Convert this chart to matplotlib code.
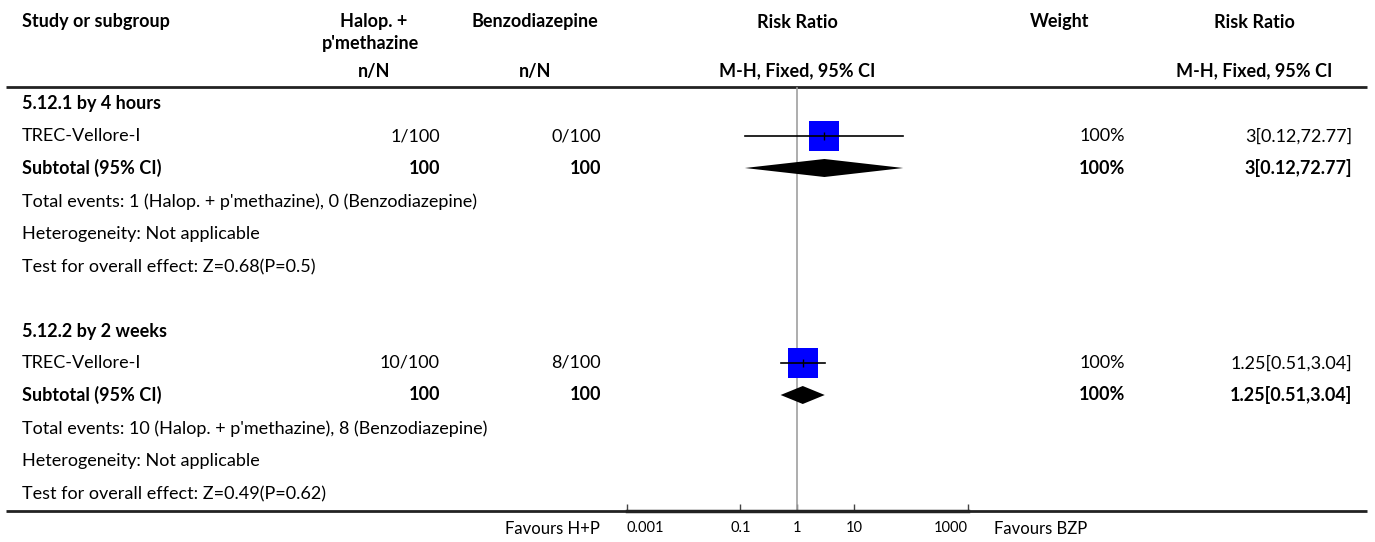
import matplotlib
matplotlib.use("Agg")
import matplotlib.pyplot as plt

# ---- data ----
subgroups = ["5.12.1 by 4 hours", "5.12.2 by 2 weeks"]
studies = ["TREC-Vellore-I", "TREC-Vellore-I"]
events_hp = [1, 10]
total_hp = [100, 100]
events_bzp = [0, 8]
total_bzp = [100, 100]
study_rr = [3, 1.25]
study_lo = [0.12, 0.51]
study_hi = [72.77, 3.04]
study_weight = [100, 100]
sub_rr = [3, 1.25]
sub_lo = [0.12, 0.51]
sub_hi = [72.77, 3.04]
z_values = ["0.68", "0.49"]
p_values = ["0.5", "0.62"]
axis_ticks = [0.001, 0.1, 1, 10, 1000]
axis_ticklabels = ["0.001", "0.1", "1", "10", "1000"]

W, H = 1375, 542
FONT = "Lato"
FS = 13.0
plt.rcParams["font.family"] = [FONT, "DejaVu Sans"]

fig = plt.figure(figsize=(W / 100, H / 100), dpi=100)
bg = fig.add_axes([0, 0, 1, 1])
bg.set_xlim(0, W)
bg.set_ylim(H, 0)
bg.axis("off")


def txt(x, y, s, ha="left", bold=False, size=FS):
    bg.text(x, y, s, ha=ha, va="center", fontsize=size,
            fontweight="bold" if bold else "normal", color="black")


# column positions
X_STUDY = 22
X_HP = 440
X_BZP = 601
X_PLOT = 797
X_WEIGHT = 1125
X_RR = 1352

# header
txt(X_STUDY, 22, "Study or subgroup", bold=True)
txt(374, 22, "Halop. +", ha="center", bold=True)
txt(371, 43, "p'methazine", ha="center", bold=True)
txt(535, 22, "Benzodiazepine", ha="center", bold=True)
txt(X_PLOT, 22, "Risk Ratio", ha="center", bold=True)
txt(1060, 22, "Weight", ha="center", bold=True)
txt(1254, 22, "Risk Ratio", ha="center", bold=True)
txt(374, 71, "n/N", ha="center", bold=True)
txt(535, 71, "n/N", ha="center", bold=True)
txt(X_PLOT, 71, "M-H, Fixed, 95% CI", ha="center", bold=True)
txt(1254, 71, "M-H, Fixed, 95% CI", ha="center", bold=True)
bg.plot([6, 1367], [87, 87], color="#222222", lw=2.0, solid_capstyle="butt")
bg.plot([6, 1367], [511, 511], color="#222222", lw=2.0, solid_capstyle="butt")

# forest plot axes: log x scale, y in pixel rows
AX_L, AX_R, AX_B = 626.5, 968.0, 511
fa = fig.add_axes([AX_L / W, (H - AX_B) / H, (AX_R - AX_L) / W, AX_B / H])
fa.set_xscale("log")
fa.set_xlim(axis_ticks[0], axis_ticks[-1])
fa.set_ylim(AX_B, 0)
fa.patch.set_alpha(0)
for side in ("top", "left", "right"):
    fa.spines[side].set_visible(False)
fa.spines["bottom"].set_linewidth(2.5)
fa.spines["bottom"].set_color("#222222")
fa.set_yticks([])
fa.set_xticks(axis_ticks)
fa.set_xticklabels(axis_ticklabels)
fa.minorticks_off()
fa.tick_params(axis="x", direction="in", length=5, width=1, color="#444444",
               labelsize=10.5, pad=7)
tl = fa.get_xticklabels()
tl[0].set_horizontalalignment("left")
tl[-1].set_horizontalalignment("right")
fa.axvline(1, ymin=0, ymax=(AX_B - 88) / AX_B, color="#a0a0a0", lw=1.2)

txt(600, 529, "Favours H+P", ha="right", size=12)
txt(994, 529, "Favours BZP", ha="left", size=12)

# rows
BLOCK = [104, 331]
for i in range(len(subgroups)):
    y0 = BLOCK[i]
    y_study = y0 + 32
    y_sub = y0 + 64
    txt(X_STUDY, y0, subgroups[i], bold=True)
    txt(X_STUDY, y_study, studies[i])
    txt(X_HP, y_study, f"{events_hp[i]}/{total_hp[i]}", ha="right")
    txt(X_BZP, y_study, f"{events_bzp[i]}/{total_bzp[i]}", ha="right")
    txt(X_WEIGHT, y_study, f"{study_weight[i]:g}%", ha="right")
    txt(X_RR, y_study,
        f"{study_rr[i]:g}[{study_lo[i]:.2f},{study_hi[i]:.2f}]", ha="right")

    txt(X_STUDY, y_sub, "Subtotal (95% CI)", bold=True)
    txt(X_HP, y_sub, f"{total_hp[i]}", ha="right", bold=True)
    txt(X_BZP, y_sub, f"{total_bzp[i]}", ha="right", bold=True)
    txt(X_WEIGHT, y_sub, f"{sum([study_weight[i]]):g}%", ha="right", bold=True)
    txt(X_RR, y_sub,
        f"{sub_rr[i]:g}[{sub_lo[i]:.2f},{sub_hi[i]:.2f}]", ha="right", bold=True)

    txt(X_STUDY, y0 + 98,
        f"Total events: {events_hp[i]} (Halop. + p'methazine), "
        f"{events_bzp[i]} (Benzodiazepine)")
    txt(X_STUDY, y0 + 130, "Heterogeneity: Not applicable")
    txt(X_STUDY, y0 + 163,
        f"Test for overall effect: Z={z_values[i]}(P={p_values[i]})")

    # study marker: weighted square, centre tick, CI line
    fa.plot([study_rr[i]], [y_study], marker="s", linestyle="none",
            markersize=21.6 * study_weight[i] / 100, color="#0000ff",
            markeredgewidth=0, zorder=3)
    fa.plot([study_rr[i]], [y_study], marker="|", linestyle="none",
            markersize=6, color="black", markeredgewidth=1.0, zorder=4)
    fa.plot([study_lo[i], study_hi[i]], [y_study, y_study], color="black",
            lw=1.2, zorder=4)

    # subtotal diamond
    fa.fill([sub_lo[i], sub_rr[i], sub_hi[i], sub_rr[i]],
            [y_sub, y_sub - 9, y_sub, y_sub + 9], color="black", lw=0,
            zorder=3)

fig.savefig("out.png", dpi=100)
